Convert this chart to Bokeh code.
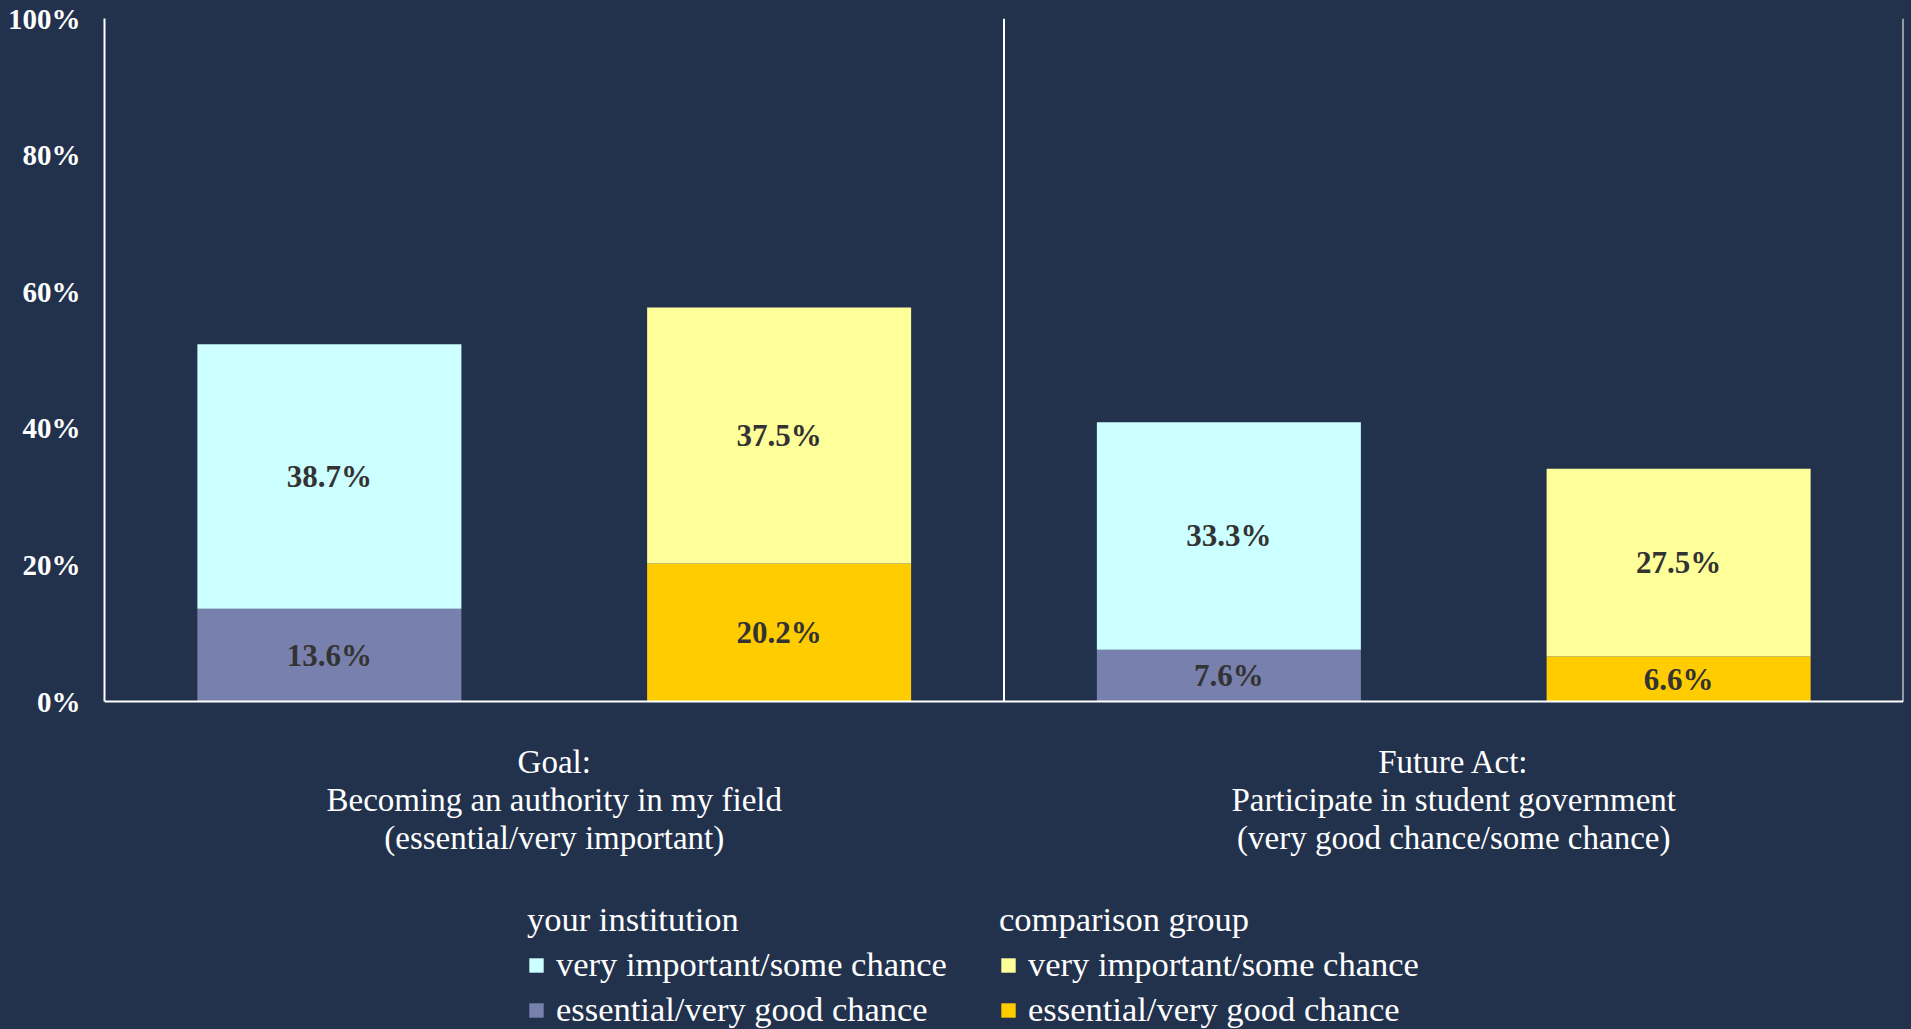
from bokeh.plotting import figure
from bokeh.models import (ColumnDataSource, Range1d, FixedTicker, Span, Legend,
                          LegendItem)
from bokeh.embed import file_html
from bokeh.resources import INLINE
from bokeh.core.properties import value

# ---------------- data ----------------
categories = [
    "Goal:\nBecoming an authority in my field\n(essential/very important)",
    "Future Act:\nParticipate in student government\n(very good chance/some chance)",
]
series_names = ["your institution", "comparison group"]
segment_names = ["very important/some chance", "essential/very good chance"]
inst_essential = [13.6, 7.6]
inst_very = [38.7, 33.3]
comp_essential = [20.2, 6.6]
comp_very = [37.5, 27.5]
y_ticks = [0, 20, 40, 60, 80, 100]
y_tick_labels = ["0%", "20%", "40%", "60%", "80%", "100%"]

# ---------------- style ----------------
BG = "#22324D"
FONT = "Liberation Serif"
INST_VERY = "#CCFFFF"
INST_ESS = "#7880AE"
COMP_VERY = "#FFFF99"
COMP_ESS = "#FFCC00"
BAR_W = 0.587

W, H = 1911, 1029
# frame spans the whole lower area so that the category labels and the
# legends (drawn below the value axis) are inside it
p = figure(width=W, height=H, output_backend="svg", toolbar_location=None,
           x_range=Range1d(0, 2 * len(categories)), y_range=Range1d(-48, 100),
           min_border_left=104, min_border_right=8,
           min_border_top=18, min_border_bottom=0,
           background_fill_color=BG, border_fill_color=BG,
           outline_line_color=None)
p.styles = {"background-color": BG}
p.grid.visible = False
p.xaxis.visible = False


def make_source(offset, ess, very):
    xs = [2 * i + offset for i in range(len(ess))]
    tot = [e + v for e, v in zip(ess, very)]
    return ColumnDataSource(dict(
        x=xs, ess=ess, very=very, total=tot,
        ess_mid=[e / 2 for e in ess],
        very_mid=[e + v / 2 for e, v in zip(ess, very)],
        ess_lbl=[f"{e:.1f}%" for e in ess],
        very_lbl=[f"{v:.1f}%" for v in very],
    ))


src_inst = make_source(0.5, inst_essential, inst_very)
src_comp = make_source(1.5, comp_essential, comp_very)

r_ie = p.vbar(x="x", bottom=0, top="ess", width=BAR_W, source=src_inst,
              fill_color=INST_ESS, line_color=None)
r_iv = p.vbar(x="x", bottom="ess", top="total", width=BAR_W, source=src_inst,
              fill_color=INST_VERY, line_color=None)
r_ce = p.vbar(x="x", bottom=0, top="ess", width=BAR_W, source=src_comp,
              fill_color=COMP_ESS, line_color=None)
r_cv = p.vbar(x="x", bottom="ess", top="total", width=BAR_W, source=src_comp,
              fill_color=COMP_VERY, line_color=None)

for src in (src_inst, src_comp):
    for ycol, tcol in (("ess_mid", "ess_lbl"), ("very_mid", "very_lbl")):
        p.text(x="x", y=ycol, text=tcol, source=src,
               text_font=value(FONT), text_font_style="bold",
               text_font_size="31px", text_color="#333333",
               text_align="center", text_baseline="middle")

# value-axis baseline and separators between the groups
p.add_layout(Span(location=0, dimension="width", line_color="white",
                  line_width=2))
n = len(categories)
p.segment(x0=[2 * (i + 1) for i in range(n)], y0=[0] * n,
          x1=[2 * (i + 1) for i in range(n)], y1=[100] * n,
          line_color="white", line_width=2)

# category labels, hung below the baseline
cat_src = ColumnDataSource(dict(x=[2 * i + 1 for i in range(n)], y=[0] * n,
                                text=categories))
p.text(x="x", y="y", text="text", source=cat_src, y_offset=42,
       text_font=value(FONT), text_font_size="33px", text_color="white",
       text_align="center", text_baseline="top", text_line_height=1.06)

# ---------------- value axis ----------------
ya = p.yaxis[0]
ya.bounds = (0, 100)
ya.ticker = FixedTicker(ticks=y_ticks)
ya.major_label_overrides = {t: l for t, l in zip(y_ticks, y_tick_labels)}
ya.major_tick_in = 0
ya.major_tick_out = 0
ya.minor_tick_in = 0
ya.minor_tick_out = 0
ya.axis_line_color = "white"
ya.axis_line_width = 2
ya.major_label_standoff = 24
ya.major_label_text_font = FONT
ya.major_label_text_font_size = "29px"
ya.major_label_text_font_style = "bold"
ya.major_label_text_color = "white"


# ---------------- legends ----------------
def make_legend(title, items, x):
    return Legend(items=items, title=title, location=(x, 0),
                  border_line_color=None, background_fill_alpha=0,
                  padding=0, margin=0, spacing=6, label_standoff=11,
                  glyph_width=18, glyph_height=18,
                  label_text_font=FONT, label_text_font_size="34.5px",
                  label_text_color="white",
                  title_text_font=FONT, title_text_font_size="34.5px",
                  title_text_color="white", title_text_font_style="normal",
                  title_standoff=6)


leg1 = make_legend(series_names[0], [
    LegendItem(label=segment_names[0], renderers=[r_iv]),
    LegendItem(label=segment_names[1], renderers=[r_ie]),
], 423)
leg2 = make_legend(series_names[1], [
    LegendItem(label=segment_names[0], renderers=[r_cv]),
    LegendItem(label=segment_names[1], renderers=[r_ce]),
], 895)
p.add_layout(leg1)
p.add_layout(leg2)

open("out.html", "w").write(file_html(p, INLINE))
